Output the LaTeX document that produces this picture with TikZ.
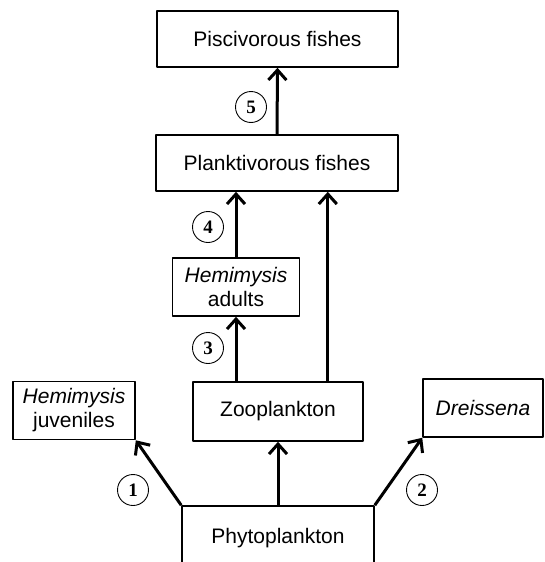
\documentclass[tikz,border=0pt]{standalone}
\usepackage{fontspec}
\setmainfont{Liberation Sans}
\newfontfamily\numfont{Liberation Serif}
\usetikzlibrary{arrows.meta}

\begin{document}
\begin{tikzpicture}[x=1pt,y=-1pt,>={Straight Barb[length=10pt,width=18pt]},line cap=round,line join=round]
  \tikzset{
    box/.style={draw,line width=1.6pt,inner sep=0pt,align=center,font=\fontsize{21}{24}\selectfont},
    flow/.style={->,line width=3pt,line cap=butt},
    num/.style={draw,circle,line width=0.9pt,minimum size=31pt,inner sep=0pt,font=\numfont\bfseries\fontsize{19}{19}\selectfont}
  }
  \useasboundingbox (0,0) rectangle (544,562);

  % the food web, top to bottom
  \node[box,minimum width=241pt,minimum height=56pt] (pisc) at (277.5,39) {Piscivorous fishes};
  \node[box,minimum width=242pt,minimum height=56pt] (plank) at (277,163) {Planktivorous fishes};
  \node[box,minimum width=127pt,minimum height=58pt] (hadult) at (236,287) {\textit{Hemimysis}\\adults};
  \node[box,minimum width=170pt,minimum height=59pt] (zoo) at (278,411.5) {Zooplankton};
  \node[box,minimum width=122pt,minimum height=58pt] (hjuv) at (74,410.5) {\textit{Hemimysis}\\juveniles};
  \node[box,minimum width=120pt,minimum height=58pt] (dreis) at (483,408) {\textit{Dreissena}};
  % bottom edge runs off the page
  \node[box,minimum width=192pt,minimum height=64pt] (phyto) at (278,538) {Phytoplankton};

  % feeding links
  \draw[flow] (plank.north) -- (pisc.south);
  \draw[flow] (hadult.north) -- (hadult.north |- plank.south);
  \draw[flow] ([xshift=-36pt]zoo.north east) -- ([xshift=-36pt]zoo.north east |- plank.south);
  \draw[flow] ([xshift=-42pt]zoo.north) -- (hadult.south);
  \draw[flow] (phyto.north) -- (zoo.south);
  \draw[flow] (phyto.north west) -- (hjuv.south east);
  \draw[flow] (phyto.north east) -- (dreis.south west);

  % numbered links
  \node[num] (n1) at (133,490) {1};
  \node[num] (n2) at (422,490) {2};
  \node[num] (n3) at (208,348) {3};
  \node[num] (n4) at (208,227) {4};
  \node[num] (n5) at (251,107) {5};
\end{tikzpicture}
\end{document}
